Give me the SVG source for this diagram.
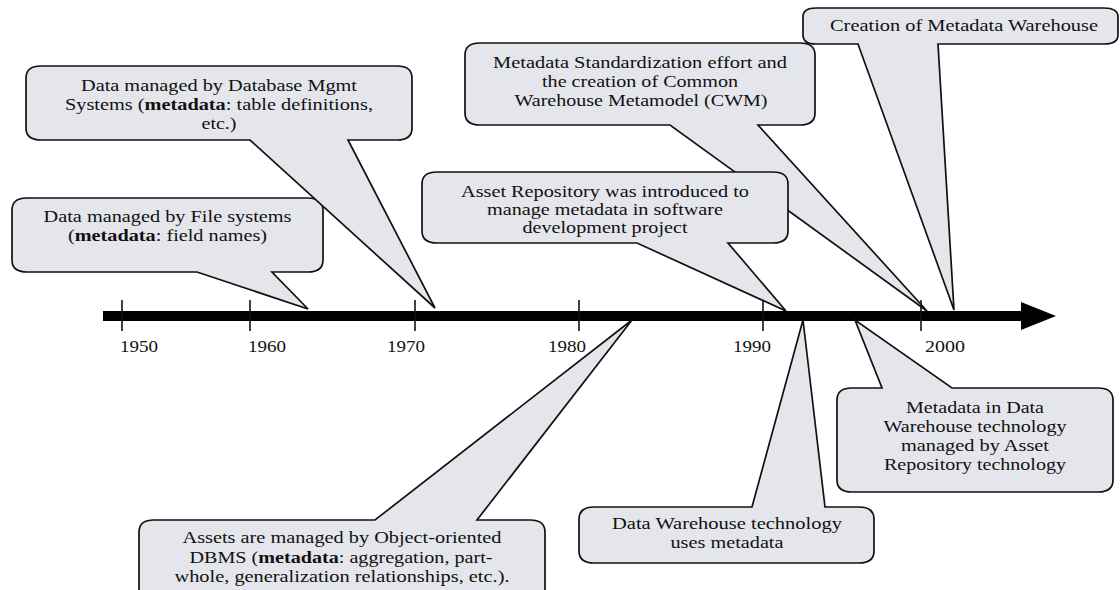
<svg xmlns="http://www.w3.org/2000/svg" width="1120" height="590" viewBox="0 0 1120 590">
<style>
.co{fill:#e5e6eb;stroke:#111;stroke-width:1.7;stroke-linejoin:miter}
.t{font-family:"Liberation Serif","Times New Roman",serif;font-size:17px;fill:#111;text-anchor:middle}
.b{font-weight:bold}
.yr{font-family:"Liberation Serif","Times New Roman",serif;font-size:17px;fill:#111;text-anchor:middle}
.tick{stroke:#111;stroke-width:1.6}
</style>
<rect width="1120" height="590" fill="#fff"/>
<g id="timeline">
<rect x="103" y="311" width="920" height="10" fill="#000"/>
<polygon points="1021,302 1056,316 1021,330" fill="#000"/>
<line class="tick" x1="122" y1="300" x2="122" y2="331"/>
<line class="tick" x1="250" y1="300" x2="250" y2="331"/>
<line class="tick" x1="415" y1="300" x2="415" y2="331"/>
<line class="tick" x1="579" y1="300" x2="579" y2="331"/>
<line class="tick" x1="763" y1="300" x2="763" y2="331"/>
<line class="tick" x1="921" y1="300" x2="921" y2="331"/>
<text class="yr" x="139" y="352" textLength="38" lengthAdjust="spacingAndGlyphs">1950</text>
<text class="yr" x="267" y="352" textLength="38" lengthAdjust="spacingAndGlyphs">1960</text>
<text class="yr" x="406" y="352" textLength="38" lengthAdjust="spacingAndGlyphs">1970</text>
<text class="yr" x="567" y="352" textLength="38" lengthAdjust="spacingAndGlyphs">1980</text>
<text class="yr" x="752" y="352" textLength="38" lengthAdjust="spacingAndGlyphs">1990</text>
<text class="yr" x="945" y="352" textLength="40" lengthAdjust="spacingAndGlyphs">2000</text>
</g>
<g id="connectors"/>
<g id="file-systems">
<path class="co" d="M27,198 H308 Q323,198 323,210 V260 Q323,272 308,272 H272 L308,309 L197,272 H27 Q12,272 12,260 V210 Q12,198 27,198 Z"/>
<text class="t" x="167.5" y="222" textLength="248" lengthAdjust="spacingAndGlyphs">Data managed by File systems</text>
<text class="t" x="167.5" y="241" textLength="199" lengthAdjust="spacingAndGlyphs">(<tspan class="b">metadata</tspan>: field names)</text>
</g>
<g id="dbms">
<path class="co" d="M41,66 H397 Q412,66 412,78 V128 Q412,140 397,140 H348 L435,308 L250,140 H41 Q26,140 26,128 V78 Q26,66 41,66 Z"/>
<text class="t" x="219" y="91" textLength="276" lengthAdjust="spacingAndGlyphs">Data managed by Database Mgmt</text>
<text class="t" x="219" y="110" textLength="308" lengthAdjust="spacingAndGlyphs">Systems (<tspan class="b">metadata</tspan>: table definitions,</text>
<text class="t" x="219" y="129" textLength="35" lengthAdjust="spacingAndGlyphs">etc.)</text>
</g>
<g id="cwm">
<path class="co" d="M480,43 H800 Q815,43 815,55 V113 Q815,125 800,125 H758 L927,311 L670,125 H480 Q465,125 465,113 V55 Q465,43 480,43 Z"/>
<text class="t" x="640" y="68" textLength="294" lengthAdjust="spacingAndGlyphs">Metadata Standardization effort and</text>
<text class="t" x="640" y="87" textLength="196" lengthAdjust="spacingAndGlyphs">the creation of Common</text>
<text class="t" x="641" y="106" textLength="253" lengthAdjust="spacingAndGlyphs">Warehouse Metamodel (CWM)</text>
</g>
<g id="asset-repository">
<path class="co" d="M437,172 H773 Q788,172 788,184 V231 Q788,243 773,243 H728 L786,311 L637,243 H437 Q422,243 422,231 V184 Q422,172 437,172 Z"/>
<text class="t" x="605" y="197" textLength="288" lengthAdjust="spacingAndGlyphs">Asset Repository was introduced to</text>
<text class="t" x="605" y="215" textLength="236" lengthAdjust="spacingAndGlyphs">manage metadata in software</text>
<text class="t" x="605" y="233" textLength="165" lengthAdjust="spacingAndGlyphs">development project</text>
</g>
<g id="metadata-warehouse">
<path class="co" d="M816,8 H1104 Q1118,8 1118,17 V35 Q1118,44 1104,44 H938 L954,310 L858,44 H816 Q803,44 803,35 V17 Q803,8 816,8 Z"/>
<text class="t" x="964" y="31" textLength="268" lengthAdjust="spacingAndGlyphs">Creation of Metadata Warehouse</text>
</g>
<g id="oodbms">
<path class="co" d="M154,520 H375 L632,320 L477,520 H530 Q545,520 545,532 V598 Q545,610 530,610 H154 Q139,610 139,598 V532 Q139,520 154,520 Z"/>
<text class="t" x="342" y="543" textLength="319" lengthAdjust="spacingAndGlyphs">Assets are managed by Object-oriented</text>
<text class="t" x="341" y="563" textLength="303" lengthAdjust="spacingAndGlyphs">DBMS (<tspan class="b">metadata</tspan>: aggregation, part-</text>
<text class="t" x="342" y="582" textLength="335" lengthAdjust="spacingAndGlyphs">whole, generalization relationships, etc.).</text>
</g>
<g id="dw-technology">
<path class="co" d="M594,507 H752 L803,320 L825,507 H859 Q874,507 874,519 V551 Q874,563 859,563 H594 Q579,563 579,551 V519 Q579,507 594,507 Z"/>
<text class="t" x="727" y="529" textLength="230" lengthAdjust="spacingAndGlyphs">Data Warehouse technology</text>
<text class="t" x="727" y="548" textLength="113" lengthAdjust="spacingAndGlyphs">uses metadata</text>
</g>
<g id="dw-asset-repository">
<path class="co" d="M852,388 H882 L855,320 L952,388 H1098 Q1113,388 1113,400 V480 Q1113,492 1098,492 H852 Q837,492 837,480 V400 Q837,388 852,388 Z"/>
<text class="t" x="975" y="413" textLength="138" lengthAdjust="spacingAndGlyphs">Metadata in Data</text>
<text class="t" x="975" y="432" textLength="183" lengthAdjust="spacingAndGlyphs">Warehouse technology</text>
<text class="t" x="975" y="451" textLength="148" lengthAdjust="spacingAndGlyphs">managed by Asset</text>
<text class="t" x="975" y="470" textLength="182" lengthAdjust="spacingAndGlyphs">Repository technology</text>
</g>
</svg>
